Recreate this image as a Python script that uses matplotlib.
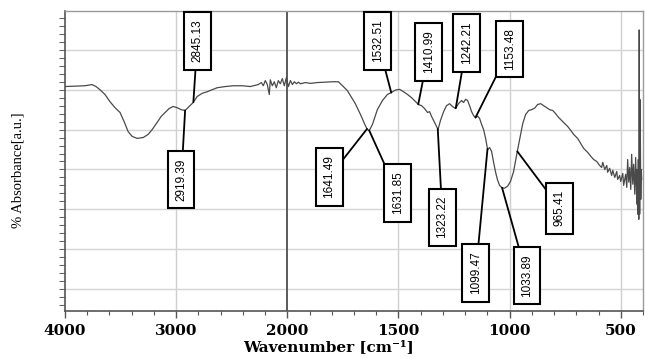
import numpy as np
import matplotlib
matplotlib.use("Agg")
import matplotlib.pyplot as plt
from matplotlib.ticker import FixedLocator, MultipleLocator, NullFormatter

# FTIR spectrum: wavenumber (cm^-1) and absorbance (a.u.)
wavenumber = [
    4000, 3910, 3820, 3757, 3721, 3685, 3640, 3595, 3550, 3505, 3468, 3432, 3396, 3351,
    3297, 3252, 3216, 3171, 3135, 3099, 3063, 3027, 2991, 2955, 2919, 2883, 2847, 2811,
    2766, 2721, 2631, 2559, 2486, 2405, 2333, 2261,
    2234, 2216, 2198, 2180, 2162, 2153, 2135, 2117, 2099, 2081, 2063, 2045, 2027, 2009,
    1995, 1986, 1977, 1968, 1959, 1950, 1941, 1919, 1896, 1865, 1829, 1797, 1770, 1748,
    1730, 1716, 1694, 1671, 1653, 1640, 1631, 1617, 1595, 1572, 1550, 1532, 1514, 1495,
    1477, 1459, 1441, 1423, 1410, 1396, 1383, 1369, 1360, 1351, 1342, 1333, 1322, 1311,
    1297, 1284, 1270, 1257, 1243, 1230, 1216, 1207, 1198, 1189, 1180, 1171, 1162, 1153,
    1144, 1135, 1126, 1117, 1108, 1099, 1090, 1081, 1072, 1063, 1054, 1045, 1034, 1023,
    1009, 996, 982, 968, 955, 941, 928, 914, 901, 887, 874, 860, 847, 833, 820, 806,
    793, 779, 766, 752, 739, 725, 712, 694, 680, 667, 649, 635, 622, 608, 595,
    586, 581, 572, 563, 559, 550, 541, 536, 527, 518, 514, 505, 500, 491, 487, 478,
    473, 469, 464, 460, 455, 451, 446, 442, 437, 433, 428, 426, 424, 421, 419, 417,
    415, 413, 410, 408, 406,
]
absorbance = [
    5.08, 5.09, 5.10, 5.13, 5.08, 5.00, 4.88, 4.70, 4.55, 4.43, 4.20, 3.95, 3.83, 3.78,
    3.80, 3.88, 4.00, 4.18, 4.33, 4.43, 4.53, 4.58, 4.55, 4.50, 4.48, 4.58, 4.68, 4.83,
    4.91, 4.95, 5.05, 5.08, 5.10, 5.10, 5.08, 5.13,
    5.18, 5.10, 5.23, 5.13, 4.88, 5.25, 5.10, 5.20, 5.05, 5.23, 5.15, 5.28, 5.10, 5.30,
    5.08, 5.23, 5.13, 5.20, 5.15, 5.19, 5.15, 5.18, 5.16, 5.18, 5.19, 5.20, 5.20, 5.08,
    4.98, 4.85, 4.65, 4.38, 4.15, 4.00, 3.98, 4.13, 4.50, 4.73, 4.88, 4.93, 4.99, 5.01,
    4.95, 4.88, 4.80, 4.70, 4.63, 4.60, 4.53, 4.43, 4.45, 4.33, 4.23, 4.13, 4.00, 4.23,
    4.45, 4.60, 4.65, 4.58, 4.53, 4.65, 4.73, 4.68, 4.76, 4.73, 4.60, 4.45, 4.35, 4.30,
    4.34, 4.28, 4.13, 4.00, 3.78, 3.50, 3.55, 3.45, 3.18, 2.93, 2.73, 2.60, 2.54, 2.53,
    2.58, 2.70, 2.95, 3.38, 3.75, 4.15, 4.38, 4.48, 4.50, 4.54, 4.63, 4.65, 4.60, 4.55, 4.50, 4.48,
    4.40, 4.30, 4.23, 4.15, 4.08, 3.98, 3.88, 3.78, 3.65, 3.53, 3.43, 3.33, 3.25, 3.20, 3.10,
    3.05, 3.18, 3.00, 3.10, 2.93, 3.03, 2.85, 2.98, 2.80, 2.95, 2.75, 2.85, 2.70, 2.90, 2.60, 2.88,
    2.55, 3.25, 2.68, 3.05, 2.50, 3.38, 2.63, 3.13, 2.38, 3.30, 2.13, 3.00, 1.88, 3.25, 1.75, 6.50,
    1.88, 4.75, 2.25, 3.00, 2.75,
]

# Labelled peak positions (cm^-1)
peak_labels = ["2845.13", "2919.39", "1641.49", "1532.51", "1631.85", "1410.99",
               "1323.22", "1242.21", "1153.48", "1099.47", "1033.89", "965.41"]

# Label box centres (axes fraction)
box_x = [0.229, 0.201, 0.4575, 0.541, 0.5754, 0.629, 0.653, 0.695, 0.7695, 0.7106, 0.799, 0.856]
box_y = [0.900, 0.437, 0.447, 0.900, 0.393, 0.863, 0.313, 0.893, 0.873, 0.127, 0.117, 0.343]

major_ticks = [4000, 3000, 2000, 1500, 1000, 500]
minor_ticks = list(range(4000, 2000, -200)) + list(range(2000, 399, -100))


# Compressed scale above 2000 cm^-1 (half the spacing of the low-wavenumber range)
def fwd(w):
    w = np.asarray(w, dtype=float)
    return np.where(w > 2000, 2000 + (w - 2000) * 0.5, w)


def inv(u):
    u = np.asarray(u, dtype=float)
    return np.where(u > 2000, 2000 + (u - 2000) * 2.0, u)


fig = plt.figure(figsize=(6.45, 3.58), dpi=100)
ax = fig.add_axes([65 / 645, 47 / 358, 578 / 645, 300 / 358])
ax.set_xscale("function", functions=(fwd, inv))
ax.set_xlim(4000, 400)
ax.set_ylim(-0.55, 6.975)

# grid
for g in [3000, 1500, 1000, 500]:
    ax.axvline(g, color="#cfcfcf", lw=1.0, zorder=0)
ax.axvline(2000, color="#5a5a5a", lw=1.4, zorder=1)
for g in range(0, 7):
    ax.axhline(g, color="#d4d4d4", lw=1.0, zorder=0)

ax.plot(wavenumber, absorbance, color="#4a4a4a", lw=0.9, zorder=3)

# peak annotations
wn_arr = np.array(wavenumber)[::-1]
ab_arr = np.array(absorbance)[::-1]
label_font = ["Liberation Sans Narrow", "Liberation Sans", "DejaVu Sans"]
for lab, bx, by in zip(peak_labels, box_x, box_y):
    wn = float(lab)
    yv = np.interp(wn, wn_arr, ab_arr)
    ax.annotate(
        lab, xy=(wn, yv), xycoords="data",
        xytext=(bx, by), textcoords="axes fraction",
        rotation=90, ha="center", va="center",
        fontsize=8.5, family=label_font, color="black",
        bbox=dict(boxstyle="square,pad=0.62", fc="white", ec="black", lw=1.5),
        arrowprops=dict(arrowstyle="-", color="black", lw=1.3, shrinkA=0, shrinkB=0),
        zorder=5,
    )

# axes styling
for side in ["left", "bottom"]:
    ax.spines[side].set_color("#555555")
    ax.spines[side].set_linewidth(1.2)
for side in ["top", "right"]:
    ax.spines[side].set_color("#9a9a9a")
    ax.spines[side].set_linewidth(1.0)

ax.xaxis.set_major_locator(FixedLocator(major_ticks))
ax.xaxis.set_minor_locator(FixedLocator(minor_ticks))
ax.set_xticklabels([str(t) for t in major_ticks], family="DejaVu Serif",
                   fontweight="bold", fontsize=11)
ax.xaxis.set_minor_formatter(NullFormatter())
ax.tick_params(axis="x", which="major", length=5, width=1.0, color="#555555", pad=4.5)
ax.tick_params(axis="x", which="minor", length=3, width=0.8, color="#555555")

ax.yaxis.set_major_locator(MultipleLocator(1.0))
ax.yaxis.set_minor_locator(MultipleLocator(0.2))
ax.tick_params(axis="y", which="both", labelleft=False, length=4, width=0.8,
               color="#666666")

ax.set_xlabel("Wavenumber [cm\u207b\u00b9]", family="DejaVu Serif",
              fontweight="bold", fontsize=11)
ax.xaxis.set_label_coords(0.456, -0.097)
ax.set_ylabel("% Absorbance[a.u.]", family="Liberation Serif", fontsize=10.5)
ax.yaxis.set_label_coords(-0.07, 0.47)

fig.savefig("out.png", dpi=100, facecolor="white")
